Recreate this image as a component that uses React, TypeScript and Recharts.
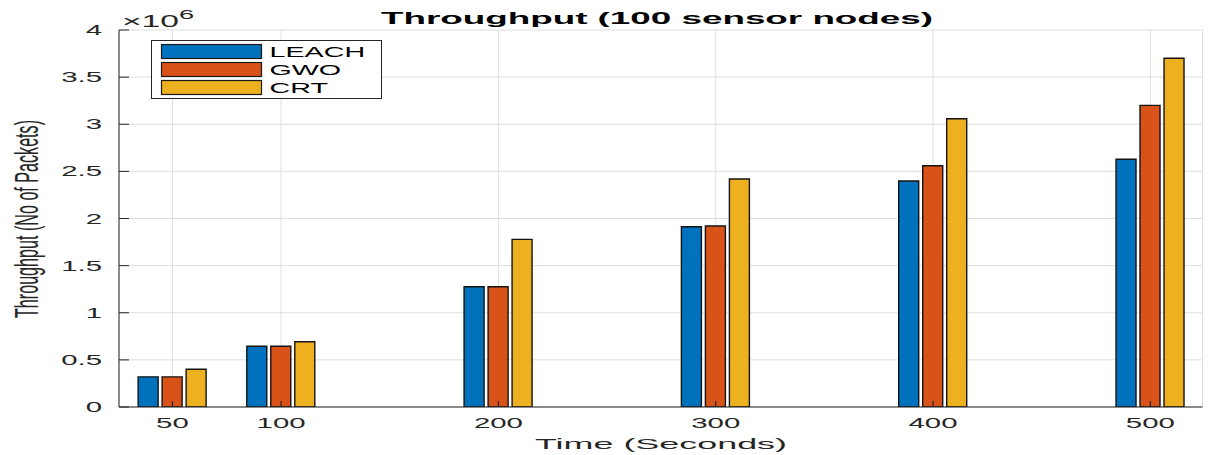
import React from 'react';
import { BarChart, Bar, XAxis, YAxis, CartesianGrid, Legend } from 'recharts';

const timeSeconds = [50, 100, 200, 300, 400, 500];
const leach = [320000, 644000, 1276000, 1913000, 2398000, 2628000];
const gwo = [320000, 644000, 1276000, 1920000, 2560000, 3200000];
const crt = [400000, 693000, 1779000, 2419000, 3059000, 3700000];
const yTicks = [0, 500000, 1000000, 1500000, 2000000, 2500000, 3000000, 3500000, 4000000];
const xTicks = [50, 100, 200, 300, 400, 500];
const seriesNames = ['LEACH', 'GWO', 'CRT'];
const seriesColors = ['#0072BD', '#D95319', '#EDB120'];

const data = timeSeconds.map((t, i) => ({ time: t, LEACH: leach[i], GWO: gwo[i], CRT: crt[i] }));

const FONT = '"Liberation Sans", Arial, Helvetica, sans-serif';
const AXIS_COLOR = '#262626';
const SX = 2.1;

const YTick = (props: any) => {
  const { y, payload } = props;
  const label = String(+(payload.value / 1e6).toFixed(1));
  return (
    <text
      transform={`translate(102,${y + 5}) scale(${SX},1)`}
      textAnchor="end"
      fontFamily={FONT}
      fontSize={14}
      fill={AXIS_COLOR}
    >
      {label}
    </text>
  );
};

const XTick = (props: any) => {
  const { x, payload } = props;
  return (
    <text
      transform={`translate(${x},428) scale(${SX},1)`}
      textAnchor="middle"
      fontFamily={FONT}
      fontSize={14}
      fill={AXIS_COLOR}
    >
      {payload.value}
    </text>
  );
};

const LegendBox = (props: any) => {
  const payload = (props.payload || []) as any[];
  const rows = seriesNames.map((n, i) => {
    const p = payload.find((q) => q.value === n);
    return { name: n, color: p ? p.color : seriesColors[i] };
  });
  return (
    <svg width={232} height={60} style={{ display: 'block' }}>
      <rect x={0.5} y={0.5} width={230} height={58} fill="#ffffff" stroke={AXIS_COLOR} strokeWidth={1} />
      {rows.map((r, i) => (
        <g key={r.name}>
          <rect x={10.5} y={4.5 + i * 18} width={100} height={14} fill={r.color} stroke="#1a1a1a" strokeWidth={1.2} />
          <text
            transform={`translate(118.5,${16.8 + i * 18}) scale(2.05,1)`}
            fontFamily={FONT}
            fontSize={14}
            fill="#000"
          >
            {r.name}
          </text>
        </g>
      ))}
    </svg>
  );
};

export default function App() {
  return (
    <div style={{ position: 'absolute', left: 0, top: 0, width: 1209, height: 455, background: '#fff' }}>
      <BarChart
        width={1209}
        height={455}
        data={data}
        margin={{ top: 30, right: 6.5, bottom: 0, left: 0 }}
        barSize={20}
        barGap={4}
      >
        <CartesianGrid stroke="#dedede" strokeWidth={1} />
        <XAxis
          dataKey="time"
          type="number"
          domain={[25.4, 524]}
          ticks={xTicks}
          allowDataOverflow
          height={48}
          axisLine={{ stroke: AXIS_COLOR, strokeWidth: 1 }}
          tickLine={{ stroke: AXIS_COLOR, strokeWidth: 1.2 }}
          tickSize={-6}
          tick={XTick}
          interval={0}
        />
        <XAxis
          xAxisId="top"
          orientation="top"
          type="number"
          domain={[25.4, 524]}
          ticks={xTicks}
          allowDataOverflow
          height={0}
          axisLine={{ stroke: AXIS_COLOR, strokeWidth: 1 }}
          tickLine={{ stroke: AXIS_COLOR, strokeWidth: 1.2 }}
          tickSize={-6}
          tick={false}
          interval={0}
        />
        <YAxis
          type="number"
          domain={[0, 4000000]}
          ticks={yTicks}
          allowDataOverflow
          width={119}
          axisLine={{ stroke: AXIS_COLOR, strokeWidth: 1 }}
          tickLine={{ stroke: AXIS_COLOR, strokeWidth: 1 }}
          tickSize={-10}
          tick={YTick}
          interval={0}
        />
        <YAxis
          yAxisId="right"
          orientation="right"
          type="number"
          domain={[0, 4000000]}
          ticks={yTicks}
          allowDataOverflow
          width={0}
          axisLine={{ stroke: AXIS_COLOR, strokeWidth: 1.5 }}
          tickLine={{ stroke: AXIS_COLOR, strokeWidth: 1 }}
          tickSize={-10}
          tick={false}
          interval={0}
        />
        <Legend
          layout="horizontal"
          verticalAlign="middle"
          align="center"
          wrapperStyle={{ left: 151, top: 40, width: 232, height: 60 }}
          content={LegendBox}
        />
        {seriesNames.map((n, i) => (
          <Bar
            key={n}
            dataKey={n}
            name={n}
            fill={seriesColors[i]}
            stroke="#141414"
            strokeWidth={1.4}
            isAnimationActive={false}
          />
        ))}
        <text x={381} y={24} textLength={552} lengthAdjust="spacingAndGlyphs" fontFamily={FONT} fontWeight="bold" fontSize={16} fill="#000">
          Throughput (100 sensor nodes)
        </text>
        <text x={535} y={449} textLength={252} lengthAdjust="spacingAndGlyphs" fontFamily={FONT} fontSize={15} fill={AXIS_COLOR}>
          Time (Seconds)
        </text>
        <text
          transform={`translate(38,219) scale(2.05,1) rotate(-90)`}
          textAnchor="middle"
          textLength={198}
          lengthAdjust="spacingAndGlyphs"
          fontFamily={FONT}
          fontSize={16}
          fill={AXIS_COLOR}
        >
          Throughput (No of Packets)
        </text>
        <text transform="translate(122,27) scale(2.1,1)" fontFamily={FONT} fontSize={16} fill={AXIS_COLOR}>
          ×10
          <tspan dy={-8} fontSize={13}>6</tspan>
        </text>
      </BarChart>
    </div>
  );
}
